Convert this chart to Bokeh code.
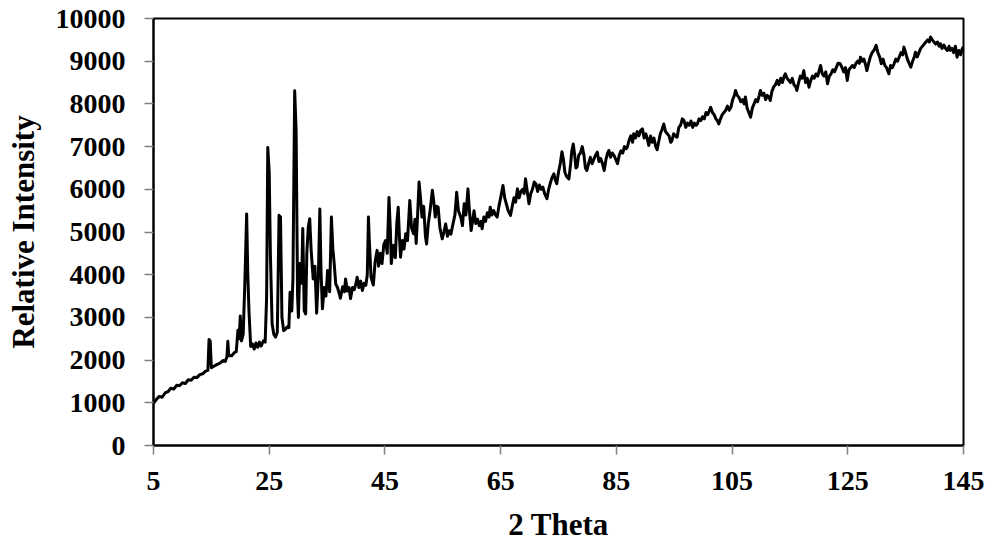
from bokeh.plotting import figure
from bokeh.models import Range1d, FixedTicker
from bokeh.embed import file_html
from bokeh.resources import INLINE

two_theta = [
    5.0, 5.5, 6.0, 6.5, 7.0, 7.5, 8.0, 8.5, 9.0, 9.5, 10.0, 10.5, 11.0, 11.5, 12.0, 12.5,
    13.0, 13.5, 14.0, 14.4, 14.6, 14.8, 15.0, 15.5, 16.0, 16.5, 17.0, 17.4, 17.7, 17.85,
    18.0, 18.5, 19.0, 19.3, 19.6, 19.8, 20.0, 20.2, 20.5, 20.8, 21.1, 21.3, 21.5, 21.8,
    22.1, 22.4, 22.7, 23.0, 23.3, 23.6, 24.0, 24.3, 24.55, 24.75, 25.0, 25.2, 25.5, 25.8,
    26.1, 26.4, 26.7, 26.95, 27.2, 27.5, 27.8, 28.1, 28.4, 28.6, 28.9, 29.1, 29.4, 29.65,
    29.9, 30.05, 30.3, 30.6, 30.8, 31.05, 31.3, 31.5, 31.75, 32.0, 32.25, 32.6, 32.9, 33.2,
    33.5, 33.75, 33.95, 34.2, 34.5, 34.8, 35.1, 35.45, 35.75, 36.0, 36.2, 36.5, 36.8, 37.1,
    37.3, 37.7, 38.0, 38.2, 38.5, 38.8, 39.05, 39.4, 39.7, 40.0, 40.2, 40.5, 40.8, 41.1,
    41.4, 41.7, 41.95, 42.15, 42.3, 42.6, 43.0, 43.3, 43.65, 43.9, 44.2, 44.5, 44.8, 45.1,
    45.4, 45.7, 45.95, 46.1, 46.5, 46.8, 47.05, 47.3, 47.5, 47.7, 48.0, 48.3, 48.6, 48.9,
    49.3, 49.6, 49.95, 50.2, 50.4, 50.65, 50.9, 51.15, 51.4, 51.7, 52.0, 52.2, 52.5, 52.8,
    53.2, 53.45, 53.7, 53.95, 54.2, 54.5, 54.9, 55.2, 55.5, 55.8, 56.1, 56.4, 56.7, 57.1,
    57.4, 57.7, 58.1, 58.4, 58.7, 59.0, 59.35, 59.6, 59.9, 60.2, 60.4, 60.7, 61.0, 61.3,
    61.6, 61.8, 62.1, 62.4, 62.7, 63.0, 63.2, 63.5, 63.8, 64.1, 64.4, 64.7, 65.0, 65.4,
    65.7, 66.0, 66.3, 66.7, 67.0, 67.3, 67.6, 67.9, 68.2, 68.5, 68.8, 69.05, 69.3, 69.6,
    69.9, 70.2, 70.5, 70.8, 71.1, 71.4, 71.7, 72.0, 72.3, 72.6, 73.0, 73.3, 73.6, 73.9,
    74.2, 74.5, 74.7, 75.0, 75.3, 75.6, 75.85, 76.1, 76.4, 76.8, 77.1, 77.3, 77.55, 77.8,
    78.0, 78.2, 78.5, 78.8, 79.1, 79.4, 79.65, 79.9, 80.2, 80.5, 80.8, 81.1, 81.4, 81.7,
    82.0, 82.3, 82.6, 82.9, 83.2, 83.5, 83.7, 84.0, 84.3, 84.6, 84.9, 85.2, 85.5, 85.8,
    86.1, 86.4, 86.7, 86.9, 87.2, 87.5, 87.8, 88.0, 88.3, 88.6, 88.9, 89.2, 89.5, 89.8,
    90.1, 90.4, 90.6, 90.9, 91.2, 91.5, 91.8, 92.05, 92.3, 92.6, 92.9, 93.2, 93.5, 93.8,
    94.1, 94.4, 94.6, 94.9, 95.2, 95.5, 95.8, 96.1, 96.4, 96.7, 97.0, 97.3, 97.6, 97.9,
    98.2, 98.5, 98.8, 99.0, 99.3, 99.6, 99.9, 100.2, 100.5, 100.8, 101.1, 101.3, 101.6, 101.9,
    102.2, 102.5, 102.7, 103.0, 103.3, 103.6, 103.9, 104.2, 104.5, 104.8, 105.1, 105.4, 105.6, 105.9,
    106.2, 106.5, 106.8, 107.1, 107.3, 107.6, 107.9, 108.2, 108.5, 108.8, 109.1, 109.4, 109.7, 109.9,
    110.2, 110.5, 110.8, 111.1, 111.4, 111.6, 111.9, 112.2, 112.5, 112.8, 113.1, 113.4, 113.7, 114.0,
    114.2, 114.5, 114.8, 115.1, 115.4, 115.7, 116.0, 116.2, 116.5, 116.8, 117.1, 117.4, 117.7, 118.0,
    118.3, 118.6, 118.9, 119.2, 119.5, 119.8, 120.1, 120.3, 120.6, 120.9, 121.2, 121.5, 121.8, 122.1,
    122.4, 122.7, 123.0, 123.3, 123.7, 124.0, 124.3, 124.6, 124.9, 125.2, 125.5, 125.8, 126.1, 126.4,
    126.7, 127.0, 127.2, 127.5, 127.8, 128.1, 128.3, 128.6, 128.9, 129.2, 129.5, 129.9, 130.2, 130.5,
    130.8, 131.1, 131.4, 131.7, 132.1, 132.4, 132.7, 133.0, 133.3, 133.6, 133.9, 134.2, 134.5, 134.7,
    135.0, 135.3, 135.6, 135.9, 136.2, 136.5, 136.7, 137.0, 137.3, 137.6, 137.9, 138.2, 138.5, 138.8,
    139.1, 139.3, 139.6, 139.9, 140.2, 140.5, 140.8, 141.0, 141.3, 141.6, 141.9, 142.2, 142.5, 142.7,
    143.0, 143.3, 143.6, 143.9, 144.2, 144.5, 144.8, 145.0,
]

intensity = [
    990, 1080, 1150, 1130, 1230, 1260, 1340, 1320, 1410, 1400, 1470, 1450, 1540, 1530, 1600, 1590,
    1660, 1680, 1740, 1760, 2480, 2450, 1820, 1860, 1900, 1930, 1990, 1970, 2080, 2440,
    2100, 2100, 2180, 2200, 2700, 2500, 3030, 2450, 2600, 3860, 5420, 4000, 3150, 2320,
    2380, 2260, 2400, 2300, 2420, 2330, 2450, 2420, 3470, 6980, 6400, 4500, 2850, 2600,
    2540, 2650, 5390, 5350, 3000, 2690, 2720, 2780, 2760, 3590, 3150, 3900, 8310, 7380,
    3500, 3000, 4260, 3800, 5080, 3160, 3080, 4500, 5110, 5310, 4570, 3900, 4200, 3100,
    4000, 5540, 4100, 3200, 3700, 3500, 4100, 3600, 5350, 4600, 4310, 3780, 3700, 3560,
    3450, 3720, 3600, 3900, 3620, 3700, 3440, 3700, 3650, 3800, 3940, 3700, 3850, 3630,
    3800, 3750, 4000, 5350, 4800, 3940, 3760, 4300, 4570, 4200, 4500, 4260, 4700, 4800,
    4500, 5810, 5000, 4260, 4690, 4400, 5200, 5580, 4900, 4410, 4800, 4600, 4960, 4800,
    5740, 5100, 4960, 5300, 4730, 5400, 6170, 5800, 5350, 5600, 4900, 4720, 5200, 5500,
    5980, 5700, 5350, 5600, 5580, 5100, 4840, 5000, 5190, 4900, 5030, 4950, 5150, 5400,
    5930, 5500, 5350, 5150, 5660, 5400, 6010, 5500, 5035, 5300, 5500, 5200, 5300, 5150,
    5250, 5075, 5350, 5250, 5450, 5350, 5580, 5400, 5500, 5400, 5350, 5600, 5800, 6090,
    5800, 5650, 5500, 5390, 5600, 5800, 5700, 6010, 5800, 5950, 6000, 5900, 6245, 5950,
    5660, 5900, 6000, 6170, 6130, 5950, 6100, 6000, 6050, 5900, 5780, 6000, 6150, 6280,
    6360, 6200, 6130, 6400, 6600, 6880, 6700, 6400, 6300, 6245, 6600, 6900, 7060, 6800,
    6500, 6520, 6800, 6850, 7000, 6800, 6500, 6440, 6600, 6750, 6600, 6700, 6800, 6870,
    6650, 6720, 6600, 6440, 6700, 6850, 6910, 6750, 6850, 6790, 6700, 6600, 6800, 6900,
    6850, 7000, 6950, 6990, 7150, 7250, 7100, 7300, 7200, 7350, 7250, 7380, 7415, 7200,
    7300, 7150, 7025, 7250, 7100, 7200, 7000, 6930, 7100, 7300, 7400, 7530, 7350, 7300,
    7250, 7100, 7140, 7300, 7250, 7220, 7450, 7500, 7650, 7610, 7450, 7550, 7500, 7600,
    7450, 7550, 7500, 7530, 7650, 7610, 7700, 7650, 7800, 7750, 7850, 7920, 7800, 7750,
    7650, 7600, 7530, 7650, 7750, 7800, 7850, 7950, 7850, 7920, 8100, 8200, 8315, 8200,
    8150, 8050, 8100, 8000, 8160, 7900, 7800, 7690, 7900, 8000, 8100, 8050, 8200, 8315,
    8200, 8250, 8100, 8200, 8150, 8080, 8300, 8400, 8450, 8550, 8450, 8600, 8500, 8650,
    8705, 8600, 8550, 8500, 8600, 8450, 8400, 8315, 8500, 8650, 8600, 8780, 8500, 8600,
    8390, 8550, 8650, 8600, 8700, 8650, 8800, 8900, 8700, 8650, 8750, 8470, 8650, 8700,
    8800, 8750, 8850, 8950, 8940, 8850, 8750, 8850, 8550, 8800, 8850, 8900, 8850, 8950,
    9000, 8950, 9095, 9000, 9050, 8900, 8780, 8950, 9100, 9200, 9250, 9370, 9200, 9100,
    8940, 9050, 8900, 8850, 8705, 8900, 8850, 8940, 9050, 9000, 9100, 9200, 9150, 9330,
    9200, 9050, 8950, 8860, 9000, 9100, 9210, 9100, 9200, 9300, 9350, 9400, 9450, 9500,
    9450, 9565, 9500, 9450, 9400, 9450, 9350, 9410, 9300, 9380, 9300, 9250, 9350, 9255,
    9300, 9200, 9350, 9095, 9250, 9150, 9300, 9330,
]

x_ticks = [5, 25, 45, 65, 85, 105, 125, 145]
y_ticks = [0, 1000, 2000, 3000, 4000, 5000, 6000, 7000, 8000, 9000, 10000]

FONT = "Liberation Serif"

p = figure(
    width=986, height=545,
    x_range=Range1d(5, 145), y_range=Range1d(0, 10000),
    output_backend="svg", toolbar_location=None,
    min_border_left=153, min_border_right=23, min_border_top=18, min_border_bottom=100,
)

p.line(two_theta, intensity, line_color="black", line_width=3, line_join="round")

p.xgrid.visible = False
p.ygrid.visible = False
p.outline_line_color = "black"
p.outline_line_width = 2
p.background_fill_color = "white"
p.border_fill_color = "white"

p.xaxis.ticker = FixedTicker(ticks=x_ticks)
p.yaxis.ticker = FixedTicker(ticks=y_ticks)
p.xaxis.axis_label = "2 Theta"
p.yaxis.axis_label = "Relative Intensity"

for ax in (p.xaxis, p.yaxis):
    ax.axis_line_color = "black"
    ax.axis_line_width = 2
    ax.major_tick_line_color = "#808080"
    ax.major_tick_line_width = 1.5
    ax.major_tick_out = 9
    ax.major_tick_in = 0
    ax.minor_tick_line_color = None
    ax.major_label_text_font = FONT
    ax.major_label_text_font_style = "bold"
    ax.major_label_text_font_size = "28px"
    ax.major_label_text_color = "black"
    ax.axis_label_text_font = FONT
    ax.axis_label_text_font_style = "bold"
    ax.axis_label_text_font_size = "31px"
    ax.axis_label_text_color = "black"

p.yaxis.major_label_standoff = 19
p.yaxis.axis_label_standoff = 12
p.xaxis.major_label_standoff = 17
p.xaxis.axis_label_standoff = 14

open("out.html", "w").write(file_html(p, INLINE))
